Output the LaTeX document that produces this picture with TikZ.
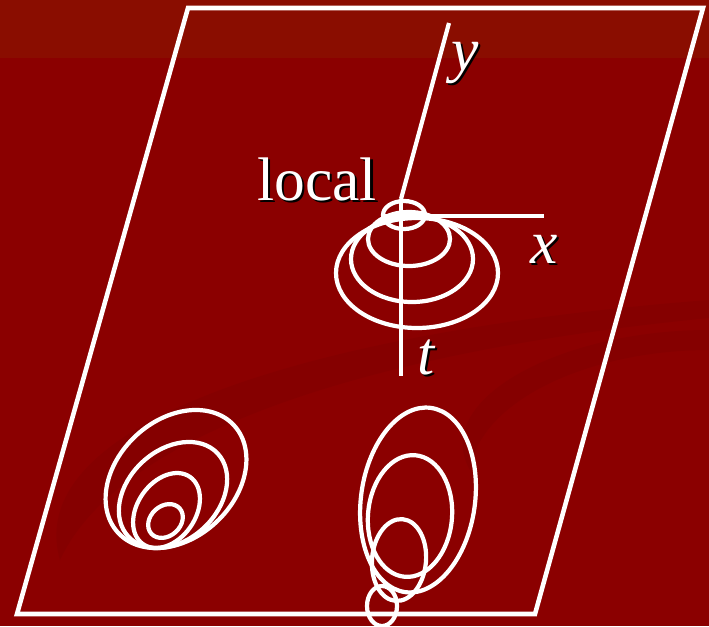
\documentclass[tikz,border=0pt]{standalone}
\usepackage{fontspec}
\setmainfont{Liberation Serif}
\usetikzlibrary{calc}
\definecolor{SlideRed}{HTML}{8B0000}
\definecolor{SlideTop}{HTML}{8A0D00}
\definecolor{SlideDeep}{HTML}{7E0000}
\tikzset{
  wline/.style={draw=white,line width=2.4pt},
  wframe/.style={draw=white,line width=2.6pt,line join=miter},
  swoosh/.style={fill=SlideDeep,fill opacity=0.45},
  wlbl/.style={text=white,inner sep=0pt,anchor=base west,
    font=\fontsize{35}{40}\selectfont},
  waxlbl/.style={wlbl,font=\fontsize{35}{40}\selectfont\itshape},
}
\newcommand{\shadowtxt}[1]{%
  \makebox[0pt][l]{\hspace{1.3pt}\raisebox{-1.3pt}{\textcolor{black}{#1}}}#1}

\begin{document}
\begin{tikzpicture}[x=0.02cm,y=-0.02cm]
  % slide background
  \fill[SlideRed] (0,0) rectangle (709,626);
  \fill[SlideTop] (0,0) rectangle (709,58);
  \fill[swoosh] (60,560) .. controls (20,420) and (320,330) .. (709,300)
    -- (709,318) .. controls (380,350) and (120,430) .. (60,560) -- cycle;
  \fill[swoosh] (470,470) .. controls (430,400) and (560,330) .. (709,330)
    -- (709,350) .. controls (590,350) and (480,400) .. (470,470) -- cycle;
  \useasboundingbox (0,0) rectangle (709,626);

  % image plane
  \coordinate (p1) at (188,8);
  \coordinate (p2) at (703,8);
  \coordinate (p3) at (535,614);
  \coordinate (p4) at (17,614);
  \draw[wframe] (p1) -- (p2) -- (p3) -- (p4) -- cycle;

  % local axes
  \coordinate (O) at (401,199);
  \coordinate (ytip) at (449,23);
  \coordinate (ttip) at (401,376);
  \coordinate (xfoot) at (385,216);
  \coordinate (xtip) at (544,216);
  \draw[wline] (O) -- (ytip);
  \draw[wline] (O) -- (ttip);
  \draw[wline] (xfoot) -- (xtip);

  \node[wlbl] (local) at (257,200) {\shadowtxt{local}};
  \node[waxlbl] (ylab) at (451,70) {\shadowtxt{y}};
  \node[waxlbl] (xlab) at (530,263) {\shadowtxt{x}};
  \node[waxlbl] (tlab) at (417,374) {\shadowtxt{t}};

  % local cone
  \draw[wline] (404,215) ellipse[x radius=21,y radius=14];
  \draw[wline] (409,239) ellipse[x radius=41,y radius=27];
  \draw[wline] (412,259) ellipse[x radius=61,y radius=43];
  \draw[wline] (417,273) ellipse[x radius=81,y radius=55];

  % lower left
  \foreach \cx/\cy/\ra/\rb/\ang in {176/479/79/59/43, 173/495/61/45/43,
      166.5/510.5/41/29/55, 165.5/521/19/15/42} {
    \coordinate (c) at (\cx,\cy);
    \draw[wline,rotate around={\ang:(c)}] (c) ellipse[x radius=\ra,y radius=\rb];
  }

  % lower right
  \draw[wline,rotate around={-8:(418,500)}] (418,500) ellipse[x radius=57,y radius=93];
  \draw[wline,rotate around={-5:(410,516)}] (410,516) ellipse[x radius=42,y radius=61];
  \draw[wline,rotate around={-5:(399,560)}] (399,560) ellipse[x radius=27,y radius=41];
  \draw[wline] (382,606) ellipse[x radius=15,y radius=20];
\end{tikzpicture}
\end{document}
